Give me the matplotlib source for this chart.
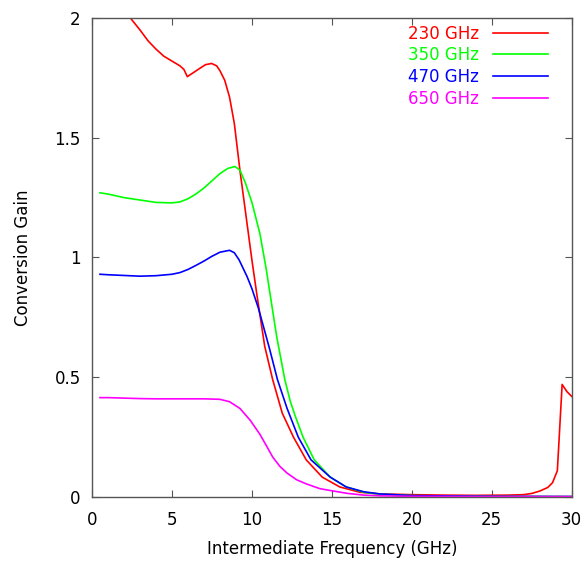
import matplotlib
matplotlib.use("Agg")
import matplotlib.pyplot as plt

# values (IF in GHz, conversion gain)
f_230 = [0.5, 1.0, 1.5, 2.0, 2.4, 3.0, 3.5, 4.0, 4.5, 5.0, 5.5, 5.75, 5.96, 6.3,
         6.75, 7.1, 7.48, 7.8, 8.0, 8.3, 8.6, 8.9, 9.25, 9.5, 9.7, 10.0, 10.3,
         10.8, 11.3, 11.9, 12.6, 13.4, 14.4, 15.5, 16.75, 18.0, 20.0, 22.0, 24.0,
         26.0, 27.0, 27.5, 28.0, 28.5, 28.8, 29.1, 29.4, 29.7, 30.0]
g_230 = [2.2, 2.15, 2.09, 2.03, 2.0, 1.95, 1.905, 1.87, 1.84, 1.82, 1.80, 1.785,
         1.755, 1.77, 1.79, 1.805, 1.81, 1.80, 1.78, 1.74, 1.67, 1.56, 1.365,
         1.24, 1.14, 0.99, 0.85, 0.63, 0.49, 0.35, 0.25, 0.155, 0.083, 0.042,
         0.02, 0.013, 0.01, 0.008, 0.007, 0.008, 0.01, 0.015, 0.025, 0.04, 0.06,
         0.11, 0.47, 0.44, 0.42]

f_350 = [0.5, 1, 2, 3, 4, 5, 5.5, 6, 6.5, 7, 7.5, 8, 8.5, 8.94, 9.25, 9.6, 10.0,
         10.5, 10.9, 11.2, 11.55, 12.06, 12.4, 12.7, 13.2, 13.9, 14.9, 15.9, 17,
         18, 20, 25, 30]
g_350 = [1.27, 1.265, 1.25, 1.24, 1.23, 1.228, 1.232, 1.245, 1.265, 1.29, 1.32,
         1.35, 1.372, 1.38, 1.365, 1.31, 1.23, 1.10, 0.95, 0.82, 0.67, 0.49,
         0.40, 0.34, 0.25, 0.155, 0.083, 0.042, 0.02, 0.012, 0.006, 0.003, 0.002]

f_470 = [0.5, 1, 2, 3, 4, 5, 5.5, 6, 6.5, 7, 7.5, 8, 8.6, 8.9, 9.2, 9.7, 10.0,
         10.4, 11.1, 11.6, 12.2, 12.9, 13.7, 14.9, 15.9, 17, 18, 20, 25, 30]
g_470 = [0.93, 0.928, 0.925, 0.922, 0.924, 0.93, 0.937, 0.95, 0.967, 0.985,
         1.005, 1.022, 1.03, 1.02, 0.99, 0.92, 0.87, 0.79, 0.62, 0.49, 0.37,
         0.25, 0.155, 0.083, 0.042, 0.022, 0.013, 0.006, 0.003, 0.002]

f_650 = [0.5, 1, 2, 3, 4, 5, 6, 7, 8, 8.6, 9.25, 9.9, 10.5, 10.9, 11.3, 11.75,
         12.2, 12.8, 13.4, 14.25, 15.1, 16, 17, 18, 20, 25, 30]
g_650 = [0.415, 0.415, 0.413, 0.411, 0.41, 0.41, 0.41, 0.41, 0.408, 0.398,
         0.37, 0.32, 0.262, 0.215, 0.167, 0.128, 0.10, 0.072, 0.055, 0.035,
         0.025, 0.015, 0.008, 0.005, 0.003, 0.002, 0.002]

series = [
    ("230 GHz", f_230, g_230, "#ff0000"),
    ("350 GHz", f_350, g_350, "#00ff00"),
    ("470 GHz", f_470, g_470, "#0000ff"),
    ("650 GHz", f_650, g_650, "#ff00ff"),
]

plt.rcParams["font.family"] = ["DejaVu Sans"]
plt.rcParams["font.size"] = 12

fig = plt.figure(figsize=(5.84, 5.61), dpi=100)
ax = fig.add_axes([0.1575, 0.114, 0.8215, 0.854])

for label, f, g, c in series:
    ax.plot(f, g, color=c, lw=1.2, label=label)

ax.set_xlim(0, 30)
ax.set_ylim(0, 2)
ax.set_xticks([0, 5, 10, 15, 20, 25, 30])
ax.set_yticks([0, 0.5, 1, 1.5, 2])
ax.set_yticklabels(["0", "0.5", "1", "1.5", "2"])
ax.tick_params(direction="in", top=True, right=True, length=5, width=0.8,
               color="#555555")
ax.tick_params(axis="x", pad=10)
ax.tick_params(axis="y", pad=8)
for s in ax.spines.values():
    s.set_color("#555555")
    s.set_linewidth(1.0)

ax.set_xlabel("Intermediate Frequency (GHz)", labelpad=8)
ax.set_ylabel("Conversion Gain", labelpad=16)

ax.legend(loc="upper right", bbox_to_anchor=(0.958, 0.993), borderaxespad=0,
          markerfirst=False, frameon=False, labelcolor="linecolor",
          handlelength=3.3, handletextpad=0.85, labelspacing=0.22, borderpad=0.2)

fig.savefig("out.png", dpi=100)
